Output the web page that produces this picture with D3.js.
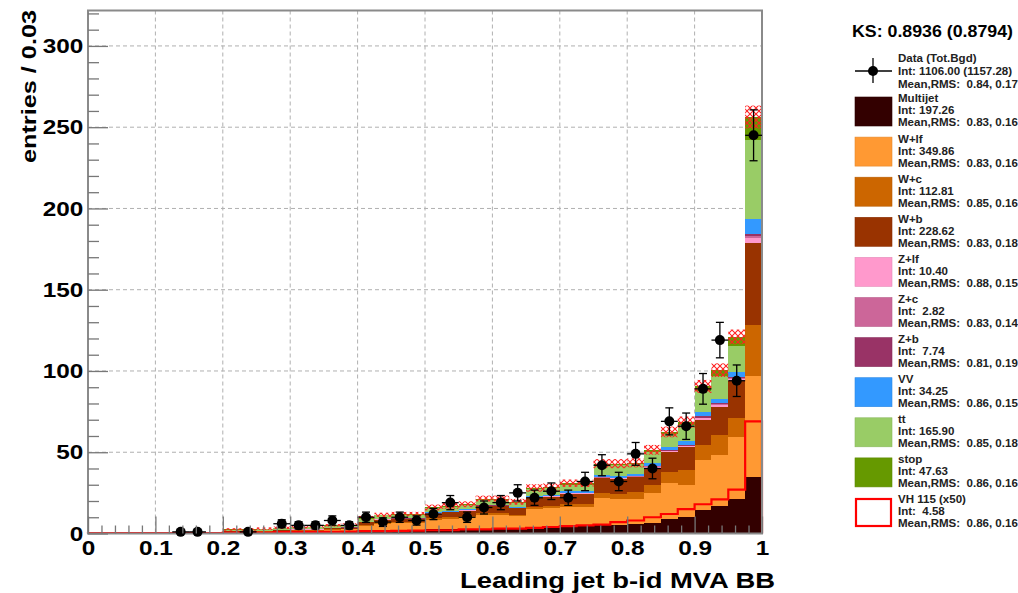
<!DOCTYPE html>
<html>
<head>
<meta charset="utf-8">
<script src="https://cdn.jsdelivr.net/npm/d3@7/dist/d3.min.js"></script>
<style>
  body { margin: 0; background: #fff; }
  svg { display: block; font-family: "Liberation Sans", Arial, Helvetica, sans-serif; }
</style>
</head>
<body>
<svg id="chart" width="1018" height="593"></svg>
<script>
// bins: 40 bins of 0.025 between 0 and 1
const binEdges = d3.range(41).map(i => i * 0.025);

// background components, bottom to top of the stack
const multijet = [0,0,0,0,0,0,0,0, 0.3,0.3,0.4,0.5,0.8,0.8,1.0,1.0, 1.5,2.0,2.0,2.0, 2.5,2.5,3.0,3.0,3.0,3.0, 4.0,4.0,4.5,4.5, 5.0,5.0,6.0,6.5,9.0,10.0,14.5,17.0,21.0,35.0];
const wlf      = [0,0,0,0,0,0,0,0, 0.7,0.7,0.8,0.9,1.0,1.0,1.3,1.5, 3.0,4.0,4.2,4.2, 6.0,6.5,7.0,8.5,8.5,7.5, 11.0,11.5,12.0,12.0, 17.0,16.0,15.5,18.5,22.0,20.0,30.5,31.0,38.5,62.0];
const wc       = [0,0,0,0,0,0,0,0, 0.1,0.1,0.2,0.2,0.2,0.2,0.3,0.3, 0.8,0.8,0.9,0.9, 1.0,1.0,1.0,1.2,1.2,1.0, 1.5,1.5,1.8,1.8, 3.0,3.5,4.0,5.0,7.0,9.0,9.5,12.5,11.5,31.0];
const wb       = [0,0,0,0,0,0,0,0, 0.2,0.3,0.3,0.4,0.4,0.4,0.6,0.7, 1.5,1.8,1.9,1.9, 2.8,3.0,3.0,4.2,4.2,4.0, 5.5,5.5,6.2,6.2, 9.0,9.0,9.0,10.5,12.0,14.0,15.5,17.5,23.0,51.0];
const zlf      = [0,0,0,0,0,0,0,0, 0,0,0,0.05,0.1,0.1,0.1,0.1, 0.1,0.15,0.15,0.15, 0.2,0.2,0.2,0.25,0.25,0.25, 0.3,0.3,0.35,0.35, 0.4,0.45,0.5,0.6,0.7,0.8,1.0,1.2,1.2,3.0];
const zc       = [0,0,0,0,0,0,0,0, 0,0,0,0,0,0,0,0.05, 0.05,0.05,0.05,0.05, 0.05,0.05,0.05,0.05,0.05,0.05, 0.1,0.1,0.1,0.1, 0.15,0.15,0.2,0.2,0.3,0.3,0.3,0.4,0.4,0.8];
const zb       = [0,0,0,0,0,0,0,0, 0,0,0,0.05,0.05,0.05,0.05,0.05, 0.1,0.1,0.1,0.1, 0.1,0.15,0.15,0.15,0.15,0.15, 0.2,0.2,0.2,0.2, 0.25,0.3,0.3,0.4,0.5,0.6,0.7,0.8,0.8,1.5];
const vv       = [0,0,0,0,0,0,0,0, 0.1,0.1,0.1,0.1,0.15,0.15,0.2,0.2, 0.25,0.3,0.3,0.3, 0.35,0.4,0.4,0.45,0.45,0.45, 0.6,0.6,0.7,0.7, 1.0,1.0,1.0,1.8,1.9,2.3,2.5,2.6,3.0,9.0];
const ttbar    = [0,0,0,0,0,0,0,0, 0.9,0.8,1.0,1.1,1.1,1.1,1.2,1.3, 1.8,1.9,2.0,2.0, 2.5,2.7,2.6,3.0,3.0,2.5, 4.0,4.0,4.2,4.2, 6.2,6.5,6.0,6.5,7.6,9.5,13.0,14.0,16.0,49.0];
const stop     = [0,0,0,0,0,0,0,0, 0.2,0.2,0.2,0.2,0.2,0.2,0.25,0.3, 0.4,0.4,0.4,0.4, 0.5,0.5,0.6,0.7,0.7,0.6, 0.8,0.8,0.9,0.9, 1.0,1.1,1.0,1.5,1.5,2.0,3.0,3.5,5.6,14.0];

// MC stat uncertainty (half height of hatched band)
const mcErr    = [0,0,0,0,0,0,0,0, 0.8,0.8,0.8,0.8,0.8,0.8,0.8,0.8, 1.3,1.3,1.3,1.3, 1.8,1.8,1.8,1.8,1.8,1.8, 2.3,2.3,2.3,2.3, 2.8,2.8,2.8,3.0,3.3,3.5,4.0,4.2,4.5,7.0];

// signal VH 115, scaled x50
const vh50     = [0.3,0.3,0.3,0.3,0.3,0.3,0.3,0.3, 0.5,0.5,0.6,0.8,1.0,1.0,1.0,1.2, 1.5,1.5,1.6,1.8, 2.0,2.0,2.5,2.5,3.0,3.0, 3.5,4.0,4.5,5.0, 5.5,7.0,8.0,10.0,12.0,15.0,18.0,21.0,27.0,69.0];

// data
const dataVals = [0,0,0,0,0,1,1,0,0,1,0, 6,5,5,8,5,10,7,10,8,12,19,10,16,19,25,22,26,22,32,42,32,49,40,69,66,89,119,94,245];

const xTicks = [0, 0.1, 0.2, 0.3, 0.4, 0.5, 0.6, 0.7, 0.8, 0.9, 1];
const yTicks = [0, 50, 100, 150, 200, 250, 300];

const keys   = ['multijet','wlf','wc','wb','zlf','zc','zb','vv','ttbar','stop'];
const series = [multijet, wlf, wc, wb, zlf, zc, zb, vv, ttbar, stop];
const colors = ['#330000','#ff9933','#cc6600','#993300','#ff99cc','#cc6699','#993366','#3399ff','#99cc66','#669900'];

const legNames = ['Multijet','W+lf','W+c','W+b','Z+lf','Z+c','Z+b','VV','tt','stop','VH 115 (x50)'];
const legInts  = ['197.26','349.86','112.81','228.62','10.40','\u00a02.82','\u00a07.74','34.25','165.90','47.63','\u00a04.58'];
const legMeans = ['0.83, 0.16','0.83, 0.16','0.85, 0.16','0.83, 0.18','0.88, 0.15','0.83, 0.14','0.81, 0.19','0.86, 0.15','0.85, 0.18','0.86, 0.16','0.86, 0.16'];

const svg = d3.select('#chart');

const pLeft = 88, pRight = 762, pTop = 10.5, pBottom = 533.5;

const x = d3.scaleLinear().domain([0, 1]).range([pLeft, pRight]);
const y = d3.scaleLinear().domain([0, 321.8]).range([pBottom, pTop]);

// hatch pattern for MC uncertainty
const defs = svg.append('defs');
const pat = defs.append('pattern')
    .attr('id', 'hatch')
    .attr('patternUnits', 'userSpaceOnUse')
    .attr('width', 6).attr('height', 6);
pat.append('path').attr('d', 'M0,0 L6,6 M6,0 L0,6')
    .attr('stroke', '#ff2020').attr('stroke-width', 1.1);

// grid
const grid = svg.append('g').attr('stroke', '#b0b0b0').attr('stroke-dasharray', '4,3').attr('stroke-width', 1);
grid.selectAll('line.gx')
    .data(xTicks.slice(1, -1))
    .enter().append('line')
    .attr('x1', d => x(d)).attr('x2', d => x(d))
    .attr('y1', pTop).attr('y2', pBottom);
grid.selectAll('line.gy')
    .data(yTicks.slice(1))
    .enter().append('line')
    .attr('x1', pLeft).attr('x2', pRight)
    .attr('y1', d => y(d)).attr('y2', d => y(d));

// stack
const table = binEdges.slice(0, -1).map((e, i) => {
    const row = { lo: e, hi: binEdges[i + 1] };
    keys.forEach((k, j) => { row[k] = series[j][i]; });
    return row;
});
const stacked = d3.stack().keys(keys)(table);

stacked.forEach((layer, j) => {
    svg.append('g')
        .attr('fill', colors[j])
        .attr('shape-rendering', 'crispEdges')
        .selectAll('rect')
        .data(layer.filter(d => d[1] - d[0] > 0))
        .enter().append('rect')
        .attr('x', d => x(d.data.lo))
        .attr('width', d => x(d.data.hi) - x(d.data.lo))
        .attr('y', d => y(d[1]))
        .attr('height', d => y(d[0]) - y(d[1]));
});

// MC uncertainty band
const totals = stacked[stacked.length - 1].map(d => d[1]);
svg.append('g')
    .selectAll('rect')
    .data(table.map((r, i) => ({ lo: r.lo, hi: r.hi, t: totals[i], e: mcErr[i] })).filter(d => d.t > 0))
    .enter().append('rect')
    .attr('x', d => x(d.lo))
    .attr('width', d => x(d.hi) - x(d.lo))
    .attr('y', d => y(d.t + d.e))
    .attr('height', d => y(d.t - d.e) - y(d.t + d.e))
    .attr('fill', 'url(#hatch)');

// VH signal outline
const vhPts = [[0, 0]];
vh50.forEach((v, i) => { vhPts.push([binEdges[i], v]); vhPts.push([binEdges[i + 1], v]); });
vhPts.push([1, 0]);
svg.append('path')
    .attr('d', d3.line().x(d => x(d[0])).y(d => y(d[1]))(vhPts))
    .attr('fill', 'none')
    .attr('stroke', '#ff0000')
    .attr('stroke-width', 2.2);

// frame
svg.append('rect')
    .attr('x', pLeft).attr('y', pTop)
    .attr('width', pRight - pLeft).attr('height', pBottom - pTop)
    .attr('fill', 'none').attr('stroke', '#8a8a8a').attr('stroke-width', 2);

// data points
const pts = dataVals.map((v, i) => ({ lo: binEdges[i], hi: binEdges[i + 1], c: (binEdges[i] + binEdges[i + 1]) / 2, v: v }))
    .filter(d => d.v > 0);
const dg = svg.append('g').attr('stroke', '#000').attr('stroke-width', 1.3);
dg.selectAll('line.h').data(pts).enter().append('line')
    .attr('x1', d => x(d.lo)).attr('x2', d => x(d.hi))
    .attr('y1', d => y(d.v)).attr('y2', d => y(d.v));
dg.selectAll('line.v').data(pts).enter().append('line')
    .attr('x1', d => x(d.c)).attr('x2', d => x(d.c))
    .attr('y1', d => y(d.v + Math.sqrt(d.v))).attr('y2', d => y(Math.max(0, d.v - Math.sqrt(d.v))));
dg.selectAll('line.t').data(pts).enter().append('line')
    .attr('x1', d => x(d.c) - 4).attr('x2', d => x(d.c) + 4)
    .attr('y1', d => y(d.v + Math.sqrt(d.v))).attr('y2', d => y(d.v + Math.sqrt(d.v)));
dg.selectAll('line.b').data(pts.filter(d => d.v > 1)).enter().append('line')
    .attr('x1', d => x(d.c) - 4).attr('x2', d => x(d.c) + 4)
    .attr('y1', d => y(d.v - Math.sqrt(d.v))).attr('y2', d => y(d.v - Math.sqrt(d.v)));
svg.append('g').selectAll('circle').data(pts).enter().append('circle')
    .attr('cx', d => x(d.c)).attr('cy', d => y(d.v)).attr('r', 5)
    .attr('fill', '#000');

// axes
const tickFont = g => g.selectAll('text')
    .attr('font-family', '"Liberation Sans", Arial, sans-serif')
    .attr('font-weight', 'bold')
    .attr('font-size', 21)
    .attr('fill', '#000')
    .attr('transform', 'scale(1.16,1)');

const yMajor = svg.append('g').attr('transform', `translate(${pLeft},0)`)
    .call(d3.axisLeft(y).tickValues(yTicks).tickSize(-20).tickPadding(4).tickFormat(d3.format('d')));
const yMinor = svg.append('g').attr('transform', `translate(${pLeft},0)`)
    .call(d3.axisLeft(y).tickValues(d3.range(10, 321, 10).filter(v => v % 50 !== 0)).tickSize(-11).tickFormat(''));
const xMajor = svg.append('g').attr('transform', `translate(0,${pBottom})`)
    .call(d3.axisBottom(x).tickValues(xTicks).tickSize(-17).tickPadding(7).tickFormat(d3.format('~g')));
const xMinor = svg.append('g').attr('transform', `translate(0,${pBottom})`)
    .call(d3.axisBottom(x).tickValues(d3.range(1, 50).map(i => i * 0.02).filter((v, i) => (i + 1) % 5 !== 0)).tickSize(-8).tickFormat(''));

[yMajor, yMinor, xMajor, xMinor].forEach(g => {
    g.select('.domain').remove();
    g.selectAll('line').attr('stroke', '#777').attr('stroke-width', 1.3);
    tickFont(g);
});

// axis titles
svg.append('text')
    .attr('x', 775).attr('y', 588)
    .attr('text-anchor', 'end')
    .attr('font-weight', 'bold').attr('font-size', 22)
    .attr('textLength', 315).attr('lengthAdjust', 'spacingAndGlyphs')
    .text('Leading jet b-id MVA BB');
svg.append('text')
    .attr('transform', 'translate(36,10) rotate(-90)')
    .attr('text-anchor', 'end')
    .attr('font-weight', 'bold').attr('font-size', 21)
    .attr('textLength', 153).attr('lengthAdjust', 'spacingAndGlyphs')
    .text('entries / 0.03');

// legend
svg.append('text')
    .attr('x', 852).attr('y', 37)
    .attr('font-weight', 'bold').attr('font-size', 16)
    .attr('textLength', 161).attr('lengthAdjust', 'spacingAndGlyphs')
    .text('KS: 0.8936 (0.8794)');

const leg = svg.append('g');
const legText = svg.append('g')
    .attr('transform', 'translate(898,0) scale(1.1,1)')
    .attr('font-size', 10.5).attr('font-weight', 'bold').attr('fill', '#222');

// data entry
leg.append('line').attr('x1', 855).attr('x2', 892).attr('y1', 71).attr('y2', 71).attr('stroke', '#000').attr('stroke-width', 1.3);
leg.append('line').attr('x1', 873).attr('x2', 873).attr('y1', 58).attr('y2', 83).attr('stroke', '#000').attr('stroke-width', 1.3);
leg.append('circle').attr('cx', 873).attr('cy', 71).attr('r', 5).attr('fill', '#000');
legText.append('text').attr('x', 0).attr('y', 62).text('Data (Tot.Bgd)');
legText.append('text').attr('x', 0).attr('y', 75).text('Int: 1106.00 (1157.28)');
legText.append('text').attr('x', 0).attr('y', 88).text('Mean,RMS:\u00a0\u00a00.84, 0.17');

legNames.forEach((name, i) => {
    const top0 = 97 + 40.1 * i;
    const isSig = i === legNames.length - 1;
    leg.append('rect')
        .attr('x', isSig ? 856 : 855).attr('y', isSig ? top0 + 1 : top0)
        .attr('width', isSig ? 35 : 37).attr('height', isSig ? 27 : 29)
        .attr('fill', isSig ? '#fff' : colors[i])
        .attr('stroke', isSig ? '#ff0000' : d3.color(colors[i]).darker(0.3))
        .attr('stroke-width', isSig ? 2.2 : 0.6);
    legText.append('text').attr('x', 0).attr('y', top0 + 5.5).text(name);
    legText.append('text').attr('x', 0).attr('y', top0 + 17.5).text('Int: ' + legInts[i]);
    legText.append('text').attr('x', 0).attr('y', top0 + 29.5).text('Mean,RMS:\u00a0\u00a0' + legMeans[i]);
});
</script>
</body>
</html>
